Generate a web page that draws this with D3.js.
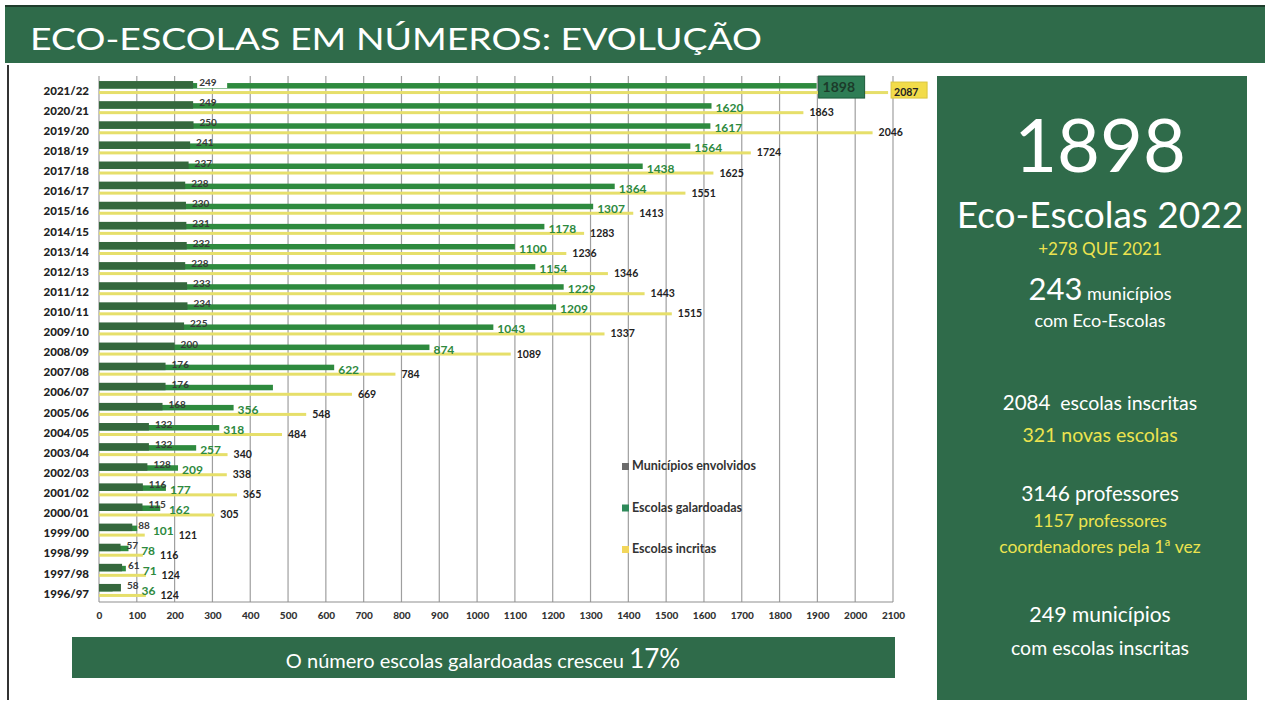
<!DOCTYPE html>
<html>
<head>
<meta charset="utf-8">
<script src="https://cdn.jsdelivr.net/npm/d3@7"></script>
<style>
  body { margin: 0; background: #fff; }
  svg { display: block; }
  text { font-family: Lato, "Open Sans", sans-serif; }
</style>
</head>
<body>
<svg id="chart" width="1265" height="711"></svg>
<script>
// valores, de 2021/22 para 1996/97
const anos = ["2021/22","2020/21","2019/20","2018/19","2017/18","2016/17","2015/16","2014/15","2013/14",
  "2012/13","2011/12","2010/11","2009/10","2008/09","2007/08","2006/07","2005/06","2004/05","2003/04",
  "2002/03","2001/02","2000/01","1999/00","1998/99","1997/98","1996/97"];
const municipios = [249,249,250,241,237,228,230,231,232,228,233,234,225,200,176,176,168,132,132,128,116,115,88,57,61,58];
const galardoadas = [1898,1620,1617,1564,1438,1364,1307,1178,1100,1154,1229,1209,1043,874,622,460,356,318,257,209,177,162,101,78,71,36];
const inscritas = [2087,1863,2046,1724,1625,1551,1413,1283,1236,1346,1443,1515,1337,1089,784,669,548,484,340,338,365,305,121,116,124,124];
const semRotulo = ["2006/07"];
const ticks = d3.range(0, 2101, 100);
const legenda = ["Municípios envolvidos", "Escolas galardoadas", "Escolas incritas"];

const verdeEsc = "#2f6b4a";
const amarelo = "#ece34f";
const cores = ["#35683d", "#2e8a3e", "#e6df6a"];
const coresLegenda = ["#6b6b6b", "#2e8a5a", "#f2d65a"];

const svg = d3.select("#chart");

// faixa do título
svg.append("rect").attr("x", 5).attr("y", 6).attr("width", 1260).attr("height", 57).attr("fill", verdeEsc);
svg.append("line").attr("x1", 5).attr("x2", 1265).attr("y1", 6).attr("y2", 6).attr("stroke", "#1f3d2c").attr("stroke-width", 2);
svg.append("text")
  .attr("x", 30).attr("y", 50)
  .attr("font-size", 31)
  .attr("fill", "#fff")
  .attr("textLength", 732).attr("lengthAdjust", "spacingAndGlyphs")
  .text("ECO-ESCOLAS EM NÚMEROS: EVOLUÇÃO");

// moldura esquerda
svg.append("line").attr("x1", 8).attr("x2", 8).attr("y1", 65).attr("y2", 700).attr("stroke", "#333").attr("stroke-width", 2);

const x = d3.scaleLinear().domain([0, 2100]).range([99, 893]);
const y = d3.scaleBand().domain(anos).range([79, 602]);

const rows = anos.map((a, i) => ({ ano: a, m: municipios[i], g: galardoadas[i], ins: inscritas[i] }));

// grelha vertical
svg.append("g").selectAll("line").data(ticks).join("line")
  .attr("x1", d => x(d)).attr("x2", d => x(d))
  .attr("y1", 76).attr("y2", 602)
  .attr("stroke", "#9f9f9f").attr("stroke-width", 1.2);
svg.append("line").attr("x1", x(0)).attr("x2", x(2100)).attr("y1", 602).attr("y2", 602)
  .attr("stroke", "#8f8f8f").attr("stroke-width", 1.2);

const xAxis = d3.axisBottom(x).tickValues(ticks).tickFormat(d3.format("d")).tickSize(0).tickPadding(10);
const gx = svg.append("g").attr("transform", "translate(0,602)").call(xAxis);
gx.select(".domain").remove();
gx.selectAll("text").attr("font-family", "Lato").attr("font-weight", 900).attr("font-size", 10).attr("fill", "#333");

const yAxis = d3.axisLeft(y).tickSize(0).tickPadding(10);
const gy = svg.append("g").attr("transform", "translate(99,2)").call(yAxis);
gy.select(".domain").remove();
gy.selectAll("text").attr("font-family", "Lato").attr("font-weight", 900).attr("font-size", 11.5).attr("fill", "#222");

const c = d => y(d.ano) + y.bandwidth() / 2;

// barras
svg.append("g").selectAll("rect").data(rows).join("rect")
  .attr("x", x(0)).attr("y", d => c(d) - 6).attr("height", 5.5)
  .attr("width", d => x(d.g) - x(0)).attr("fill", cores[1]);
svg.append("g").selectAll("rect").data(rows).join("rect")
  .attr("x", x(0)).attr("y", d => c(d) - 8).attr("height", 7.5)
  .attr("width", d => x(d.m) - x(0)).attr("fill", cores[0]);
svg.append("g").selectAll("rect").data(rows).join("rect")
  .attr("x", x(0)).attr("y", d => c(d) + 2).attr("height", 3)
  .attr("width", d => x(d.ins) - x(0)).attr("fill", cores[2]);

// destaque do último ano
const ult = rows[0];
svg.append("rect").attr("x", x(ult.g) + 2).attr("y", c(ult) - 13).attr("width", 46).attr("height", 22)
  .attr("fill", "#2e7d55").attr("stroke", "#1d5a3a");
svg.append("rect").attr("x", x(ult.ins) + 3).attr("y", c(ult) - 7).attr("width", 36).attr("height", 16)
  .attr("fill", "#f2dc4a").attr("stroke", "#d9c640");
svg.append("rect").attr("x", x(ult.m) + 4).attr("y", c(ult) - 13).attr("width", 30).attr("height", 12).attr("fill", "#fff");

// rótulos: cada um empurrado para a direita do anterior quando se tocariam
const gl = svg.append("g");
rows.forEach((d, i) => {
  const tm = gl.append("text")
    .attr("x", x(d.m) + 6).attr("y", c(d) - 3)
    .attr("font-size", 10).attr("font-weight", 700).attr("fill", "#3a3a3a")
    .text(d.m);
  const fimM = x(d.m) + 6 + tm.node().getComputedTextLength();
  let fim = x(d.g);
  if (!semRotulo.includes(d.ano)) {
    const gx0 = Math.max(x(d.g) + (i === 0 ? 6 : 4), fimM + 3);
    const tg = gl.append("text")
      .attr("x", gx0).attr("y", c(d) + 3)
      .attr("font-size", i === 0 ? 14 : 12).attr("font-weight", 700)
      .attr("fill", i === 0 ? "#1c3b2a" : "#2e8a3e")
      .text(d.g);
    fim = gx0 + tg.node().getComputedTextLength();
  }
  gl.append("text")
    .attr("x", Math.max(x(d.ins) + 6, fim + 5)).attr("y", c(d) + 7)
    .attr("font-size", 10.5).attr("font-weight", 700).attr("fill", "#222")
    .text(d.ins);
});

// legenda
const lg = svg.append("g").selectAll("g").data(legenda).join("g")
  .attr("transform", (d, i) => `translate(622,${470 + i * 41.5})`);
lg.append("rect").attr("x", 0).attr("y", -7).attr("width", 7).attr("height", 7)
  .attr("fill", (d, i) => coresLegenda[i]);
lg.append("text").attr("x", 10).attr("y", 0)
  .attr("font-size", 12.5).attr("font-weight", 700).attr("fill", "#333")
  .text(d => d);

// faixa inferior
svg.append("rect").attr("x", 72).attr("y", 637).attr("width", 823).attr("height", 41).attr("fill", verdeEsc);
const rod = svg.append("text").attr("x", 483).attr("y", 668).attr("text-anchor", "middle").attr("fill", "#fff");
rod.append("tspan").attr("font-size", 20).text("O número escolas galardoadas cresceu ");
rod.append("tspan").attr("font-size", 26).text("17%");

// painel da direita
svg.append("rect").attr("x", 937).attr("y", 76).attr("width", 310).attr("height", 624).attr("fill", verdeEsc);
const cx = 1100;
const painel = [
  { t: "1898", y: 172, s: 74, f: "#fff" },
  { t: "Eco-Escolas 2022", y: 228, s: 37, f: "#fff" },
  { t: "+278 QUE 2021", y: 255, s: 17, f: amarelo },
  { t: "com  Eco-Escolas", y: 327, s: 18, f: "#fff" },
  { t: "321 novas escolas", y: 442, s: 19.5, f: amarelo },
  { t: "1157 professores", y: 527, s: 17.5, f: amarelo },
  { t: "coordenadores pela 1ª vez", y: 553, s: 17.5, f: amarelo },
  { t: "com escolas inscritas", y: 655, s: 19.5, f: "#fff" }
];
svg.append("g").selectAll("text").data(painel).join("text")
  .attr("x", cx).attr("y", d => d.y).attr("text-anchor", "middle")
  .attr("font-size", d => d.s).attr("fill", d => d.f)
  .text(d => d.t);

const misto = [
  { n: "243", r: " municípios", y: 300, ns: 31, rs: 18 },
  { n: "2084", r: "  escolas inscritas", y: 410, ns: 20.5, rs: 19.5 },
  { n: "3146", r: " professores", y: 501, ns: 21, rs: 20.5 },
  { n: "249", r: " municípios", y: 622, ns: 21.5, rs: 21 }
];
misto.forEach(d => {
  const t = svg.append("text").attr("x", cx).attr("y", d.y).attr("text-anchor", "middle").attr("fill", "#fff");
  t.append("tspan").attr("font-size", d.ns).text(d.n);
  t.append("tspan").attr("font-size", d.rs).attr("xml:space", "preserve").text(d.r);
});
</script>
</body>
</html>
